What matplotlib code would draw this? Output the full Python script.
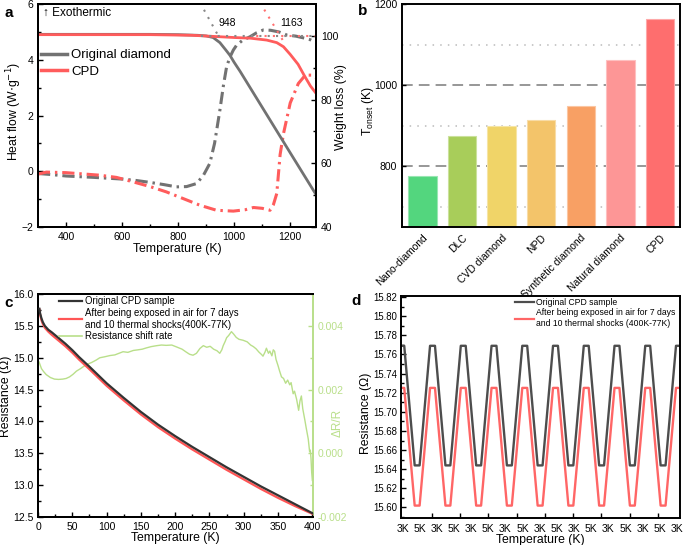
import numpy as np
import matplotlib
matplotlib.use('Agg')
import matplotlib.pyplot as plt
from matplotlib.ticker import MultipleLocator, FixedLocator
from matplotlib.lines import Line2D

plt.rcParams['font.family'] = ['Liberation Sans', 'DejaVu Sans']
plt.rcParams['xtick.direction'] = 'in'
plt.rcParams['ytick.direction'] = 'in'
plt.rcParams['xtick.labelsize'] = 7.5
plt.rcParams['ytick.labelsize'] = 7.5
plt.rcParams['axes.linewidth'] = 1.4

# ---- panel a: TGA / DSC ----
a_T_orig_w = [300, 400, 500, 600, 700, 800, 870, 900, 925, 949, 970, 985, 1000, 1021, 1100, 1200, 1292]
a_orig_w = [100.5, 100.5, 100.5, 100.5, 100.5, 100.4, 100.2, 100.0, 99.5, 97.9, 95.6, 93.9, 91.7, 88.9, 77.6, 63.3, 50.2]
a_T_cpd_w = [300, 500, 700, 850, 937, 1000, 1057, 1116, 1152, 1176, 1200, 1228, 1250, 1272, 1292]
a_cpd_w = [100.4, 100.4, 100.4, 100.2, 99.8, 99.5, 99.3, 98.7, 97.9, 96.6, 94.2, 91.1, 87.6, 84.3, 82.0]
a_T_orig_h = [300, 350, 400, 500, 600, 650, 700, 750, 794, 830, 866, 890, 913, 930, 949, 962, 973,
              985, 997, 1009, 1030, 1057, 1080, 1104, 1130, 1160, 1188, 1220, 1250, 1272, 1292]
a_orig_h = [-0.08, -0.12, -0.17, -0.22, -0.28, -0.33, -0.40, -0.48, -0.56, -0.55, -0.44, -0.15, 0.28, 1.0, 2.19, 3.1, 3.75,
            4.1, 4.35, 4.53, 4.7, 4.83, 4.97, 5.07, 5.06, 5.0, 4.89, 4.85, 4.78, 4.72, 4.62]
a_T_cpd_h = [300, 330, 400, 519, 580, 639, 700, 758, 818, 878, 937, 997, 1040, 1069, 1100, 1128, 1140,
             1152, 1164, 1176, 1200, 1229, 1254, 1275, 1292]
a_cpd_h = [-0.1, -0.03, -0.05, -0.14, -0.22, -0.38, -0.55, -0.74, -0.98, -1.22, -1.40, -1.43, -1.38, -1.30, -1.33, -1.40, -1.2,
           -0.8, 0.6, 1.35, 2.45, 3.15, 3.45, 3.45, 3.35]
tan_orig_T = [878, 946]
tan_orig_w = [110.5, 99.6]
tan_cpd_T = [1092, 1178]
tan_cpd_w = [110.5, 98.0]
base_orig_T = [880, 1292]
base_cpd_T = [1060, 1292]
onset_labels = ['948', '1163']
onset_pos = [975, 1206]

# ---- panel b: onset temperatures ----
b_names = ['Nano-diamond', 'DLC', 'CVD diamond', 'NPD', 'Synthetic diamond', 'Natural diamond', 'CPD']
b_values = [775, 874, 900, 914, 948, 1062, 1163]
b_colors = ['#53d67e', '#a8cd5a', '#f0d468', '#f3c46a', '#f8a064', '#fd9696', '#fe6e6e']

# ---- panel c: resistance vs temperature ----
c_T = [2, 3, 5, 7, 10, 15, 20, 30, 40, 50, 60, 75, 100, 125, 150, 175, 200, 225, 250, 275, 300, 325, 350, 375, 400]
c_orig = [15.77, 15.70, 15.62, 15.56, 15.50, 15.44, 15.40, 15.31, 15.22, 15.12, 15.01, 14.86, 14.60, 14.37, 14.15,
          13.95, 13.77, 13.60, 13.44, 13.28, 13.13, 12.98, 12.84, 12.70, 12.56]
c_after = [15.76, 15.68, 15.59, 15.53, 15.47, 15.41, 15.36, 15.27, 15.18, 15.08, 14.97, 14.82, 14.56, 14.33, 14.11,
           13.91, 13.73, 13.56, 13.40, 13.24, 13.09, 12.94, 12.80, 12.67, 12.55]
g_T = [1.5, 3, 5, 8, 12, 18, 24, 30, 36, 41, 46, 51, 56, 62, 70, 78, 85, 90, 97, 105, 112, 118, 124, 131, 139,
       146, 152, 158, 165, 173, 180, 187, 195, 202, 210, 216, 221, 226, 231, 236, 241, 246, 251, 256, 261, 265,
       268, 270, 273, 275, 278, 282, 285, 289, 293, 299, 305, 310, 314, 318, 322, 326, 328, 331, 333, 336, 338,
       341, 343, 345, 347, 350, 352, 355, 358, 361, 364, 367, 369, 372, 374, 377, 380, 382, 384, 386, 389, 391,
       394, 396, 397, 398, 399, 400]
g_rate_e3 = [2.87, 2.78, 2.66, 2.57, 2.47, 2.38, 2.33, 2.32, 2.33, 2.35, 2.40, 2.48, 2.58, 2.66, 2.78, 2.85, 2.93,
             3.00, 3.03, 3.07, 3.09, 3.14, 3.19, 3.17, 3.23, 3.25, 3.27, 3.31, 3.35, 3.38, 3.40, 3.39, 3.40, 3.34,
             3.27, 3.18, 3.11, 3.08, 3.14, 3.29, 3.38, 3.33, 3.36, 3.27, 3.22, 3.14, 3.25, 3.38, 3.52, 3.63, 3.70,
             3.82, 3.75, 3.64, 3.58, 3.55, 3.50, 3.40, 3.35, 3.28, 3.18, 3.10, 3.05, 3.18, 3.30, 3.14, 3.21, 3.06,
             3.25, 3.20, 2.95, 2.75, 2.60, 2.40, 2.35, 2.20, 2.30, 2.15, 2.22, 1.87, 1.95, 1.70, 1.35, 1.65, 1.80,
             1.40, 1.05, 0.80, 0.45, 0.05, 0.10, -0.15, -0.60, -0.85]

# ---- panel d: thermal cycling 3K / 5K ----
d_top_pos = [0, 2, 4, 6, 8, 10, 12, 14, 16, 18]
d_bottom_pos = [1, 3, 5, 7, 9, 11, 13, 15, 17]
d_orig_levels = (15.769, 15.644)   # 3K, 5K
d_after_levels = (15.725, 15.602)
d_plateau = 0.16
d_label_pos = [0.05, 1.17, 2.28, 3.40, 4.51, 5.63, 6.74, 7.86, 8.98, 10.09, 11.21, 12.32, 13.44, 14.56, 15.67, 16.79, 17.90]
d_labels = ['3K', '5K'] * 8 + ['3K']
d_tick_marks = [1.95, 3.79, 5.63, 7.47, 9.31, 11.15, 12.99, 14.83, 16.67]

grey = '#727272'
red = '#ff5c5c'

fig = plt.figure(figsize=(6.85, 5.45), dpi=100)

# ================= a =================
ax = fig.add_axes([0.0555, 0.5835, 0.4058, 0.409])
ax2 = ax.twinx()
dd = (0, (4, 1.6, 0.8, 1.6))
ax.plot(a_T_orig_h, a_orig_h, color=grey, lw=2.2, ls=dd)
ax.plot(a_T_cpd_h, a_cpd_h, color=red, lw=2.2, ls=dd)
ax2.plot(a_T_orig_w, a_orig_w, color=grey, lw=2)
ax2.plot(a_T_cpd_w, a_cpd_w, color=red, lw=2)
ax2.plot(tan_orig_T, tan_orig_w, color='#888888', lw=1.5, ls=(0, (1, 3)))
ax2.plot(base_orig_T, [100, 100], color='#888888', lw=1.5, ls=(0, (1, 3)))
ax2.plot(tan_cpd_T, tan_cpd_w, color='#ff7070', lw=1.5, ls=(0, (1, 3)))
ax2.plot(base_cpd_T, [100, 100], color='#ff7070', lw=1.5, ls=(1.5, (1, 3)))
for lab, x in zip(onset_labels, onset_pos):
    ax2.text(x, 104, lab, fontsize=7.5, ha='center', va='center')
ax.set_xlim(300, 1292)
ax.set_ylim(-2, 6)
ax2.set_ylim(40, 110)
ax.xaxis.set_major_locator(FixedLocator([400, 600, 800, 1000, 1200]))
ax.xaxis.set_minor_locator(FixedLocator([500, 700, 900, 1100]))
ax.yaxis.set_major_locator(MultipleLocator(2))
ax.yaxis.set_minor_locator(MultipleLocator(1))
ax2.yaxis.set_major_locator(FixedLocator([40, 60, 80, 100]))
ax2.yaxis.set_minor_locator(FixedLocator([50, 70, 90]))
for a_ in (ax, ax2):
    a_.tick_params(which='major', length=3.5, width=1)
    a_.tick_params(which='minor', length=2, width=1)
ax.set_xlabel('Temperature (K)', fontsize=8.8, labelpad=1)
ax.set_ylabel('Heat flow (W$\\cdot$g$^{-1}$)', fontsize=8.8)
ax.yaxis.set_label_coords(-0.052, 0.52)
ax2.set_ylabel('Weight loss (%)', fontsize=8.8)
ax2.yaxis.set_label_coords(1.07, 0.54)
ax.text(0.017, 0.96, '\u2191 Exothermic', transform=ax.transAxes, fontsize=8.5, va='center', ha='left')
hand = [Line2D([], [], color=grey, lw=2.5), Line2D([], [], color=red, lw=2.5)]
ax2.legend(hand, ['Original diamond', 'CPD'], loc='upper left', bbox_to_anchor=(0.0, 0.81),
           frameon=False, fontsize=9.5, handlelength=2.0, handletextpad=0.3, labelspacing=0.3,
           borderaxespad=0.2, borderpad=0)

# ================= b =================
bx = fig.add_axes([0.5869, 0.5835, 0.4058, 0.409])
for yv in (800, 1000):
    bx.axhline(yv, color='#7a7a7a', lw=1.1, ls=(0, (7, 4)), zorder=0)
for yv in (700, 900, 1100):
    bx.axhline(yv, color='#bbbbbb', lw=1.1, ls=(0, (1, 4)), zorder=0)
xs = np.arange(len(b_names))
edge = [tuple(0.6 * np.array(matplotlib.colors.to_rgb(c)) + 0.4) for c in b_colors]
bx.bar(xs, np.array(b_values) - 650, bottom=650, width=0.72, color=b_colors, edgecolor=edge, lw=0.8, zorder=2)
bx.set_xlim(-0.52, 6.51)
bx.set_ylim(650, 1200)
bx.set_yticks([800, 1000, 1200])
bx.set_xticks(xs)
bx.set_xticklabels(b_names, rotation=45, ha='right', rotation_mode='anchor', fontsize=7.5)
bx.tick_params(axis='x', length=0, pad=4)
bx.tick_params(axis='y', length=3, width=1)
bx.set_ylabel('T$_{\\mathregular{onset}}$ (K)', fontsize=8.8)
bx.yaxis.set_label_coords(-0.094, 0.52)

# ================= c =================
cx = fig.add_axes([0.0555, 0.0514, 0.4015, 0.409])
cx2 = cx.twinx()
green = '#b9df8a'
cx2.plot(g_T, np.array(g_rate_e3) * 1e-3, color=green, lw=1)
cx.plot(c_T, c_orig, color='#333333', lw=1.6, zorder=3)
cx.plot(c_T, c_after, color='#ff5555', lw=1.6, zorder=2)
cx.set_zorder(cx2.get_zorder() + 1)
cx.patch.set_visible(False)
cx.set_xlim(0, 401)
cx.set_ylim(12.5, 16.0)
cx2.set_ylim(-0.002, 0.005)
cx.xaxis.set_major_locator(MultipleLocator(50))
cx.xaxis.set_minor_locator(MultipleLocator(25))
cx.yaxis.set_major_locator(MultipleLocator(0.5))
cx.yaxis.set_minor_locator(MultipleLocator(0.25))
cx.yaxis.set_major_formatter(matplotlib.ticker.FormatStrFormatter('%.1f'))
cx2.yaxis.set_major_locator(MultipleLocator(0.002))
cx2.yaxis.set_major_formatter(matplotlib.ticker.FormatStrFormatter('%.3f'))
cx2.yaxis.set_minor_locator(MultipleLocator(0.001))
cx.tick_params(which='major', length=3.5, width=1)
cx.tick_params(which='minor', length=2, width=1)
cx2.tick_params(which='both', colors=green, labelcolor=green)
cx2.tick_params(which='major', length=3.5, width=1)
cx2.tick_params(which='minor', length=2, width=1)
cx.spines['right'].set_visible(False)
cx2.spines['right'].set_color(green)
cx2.spines['right'].set_linewidth(1.4)
cx.set_xlabel('Temperature (K)', fontsize=8.8, labelpad=0)
cx.set_ylabel('Resistance (\u03a9)', fontsize=8.8)
cx.yaxis.set_label_coords(-0.095, 0.54)
cx2.set_ylabel('\u0394R/R', fontsize=8.5, color=green)
cx2.yaxis.set_label_coords(1.069, 0.42)
hc = [Line2D([], [], color='#333333', lw=1.6), Line2D([], [], color='#ff5555', lw=1.6),
      Line2D([], [], color=green, lw=1.2)]
cx.legend(hc, ['Original CPD sample', 'After being exposed in air for 7 days\nand 10 thermal shocks(400K-77K)',
               'Resistance shift rate'], loc='upper left', bbox_to_anchor=(0.07, 1.0), frameon=False,
          fontsize=6.9, handlelength=2.4, handletextpad=0.3, labelspacing=0.2, borderaxespad=0.1, borderpad=0.1)

# ================= d =================
dx = fig.add_axes([0.5854, 0.0495, 0.4073, 0.4073])


def wave(levels):
    pts = sorted([(p, levels[0]) for p in d_top_pos] + [(p, levels[1]) for p in d_bottom_pos])
    xv, yv = [], []
    for p, lv in pts:
        xv += [p - d_plateau, p + d_plateau]
        yv += [lv, lv]
    return xv, yv


xo, yo = wave(d_orig_levels)
xa, ya = wave(d_after_levels)
dx.plot(xo, yo, color='#4d4d4d', lw=1.7)
dx.plot(xa, ya, color='#ff6666', lw=1.7)
dx.set_xlim(-0.05, 18.1)
dx.set_ylim(15.589, 15.821)
dx.yaxis.set_major_locator(MultipleLocator(0.02))
dx.yaxis.set_minor_locator(MultipleLocator(0.01))
dx.yaxis.set_major_formatter(matplotlib.ticker.FormatStrFormatter('%.2f'))
dx.set_xticks(d_label_pos)
dx.set_xticklabels(d_labels)
dx.xaxis.set_minor_locator(FixedLocator(d_tick_marks))
dx.xaxis.remove_overlapping_locs = False
dx.tick_params(axis='x', which='major', length=0, labelsize=7.5, pad=4)
dx.tick_params(axis='x', which='minor', length=3.5, width=1)
dx.tick_params(axis='y', which='major', length=3.5, width=1, labelsize=6.9, pad=3)
dx.tick_params(axis='y', which='minor', length=2, width=1)
dx.set_xlabel('Temperature (K)', fontsize=8.8, labelpad=0)
dx.set_ylabel('Resistance (\u03a9)', fontsize=8.8)
dx.yaxis.set_label_coords(-0.103, 0.47)
hd = [Line2D([], [], color='#4d4d4d', lw=1.6), Line2D([], [], color='#ff6666', lw=1.6)]
dx.legend(hd, ['Original CPD sample', 'After being exposed in air for 7 days\nand 10 thermal shocks (400K-77K)'],
          loc='upper right', bbox_to_anchor=(0.99, 1.0), frameon=False, fontsize=6.2, handlelength=2.2,
          handletextpad=0.3, labelspacing=0.2, borderaxespad=0.1, borderpad=0.1)

# panel letters
for lbl, x, y in [('a', 0.006, 0.977), ('b', 0.522, 0.979), ('c', 0.007, 0.444), ('d', 0.513, 0.448)]:
    fig.text(x, y, lbl, fontsize=11, fontweight='bold', ha='left', va='center')

fig.savefig('out.png', dpi=100)
